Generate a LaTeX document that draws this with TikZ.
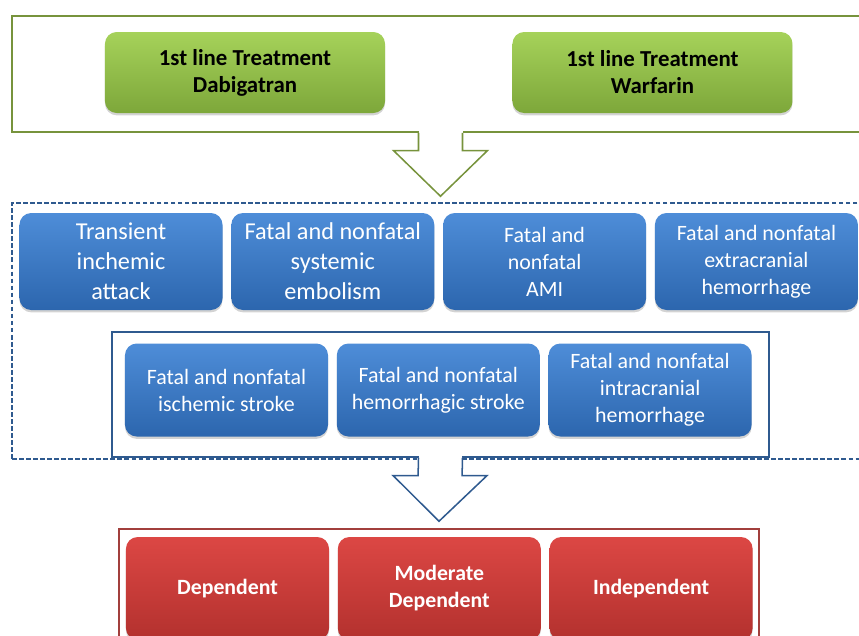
\documentclass[tikz,border=0pt]{standalone}
\usepackage{fontspec}
\setmainfont{Carlito}
\usepackage{tikz}
\usetikzlibrary{positioning,fit,calc,shadows}
\definecolor{grnTop}{HTML}{A6D25A}
\definecolor{grnBot}{HTML}{7DA73A}
\definecolor{grnLine}{HTML}{77933C}
\definecolor{bluTop}{HTML}{4E8DD8}
\definecolor{bluBot}{HTML}{2C66AE}
\definecolor{bluLine}{HTML}{2F5A8F}
\definecolor{redTop}{HTML}{DC4744}
\definecolor{redBot}{HTML}{B3312E}
\definecolor{redLine}{HTML}{A23F3C}

% hollow block arrow: start anchor, tip, colour
\newcommand{\hollowarrow}[3]{%
  \fill[white] ($(#1)+(-22,-3)$) rectangle ($(#1)!0.28!(#2)+(22,0)$);
  \draw[#3, line width=1.3pt, line join=miter, fill=white]
    ($(#1)+(-22,0)$) -- ($(#1)!0.28!(#2)+(-22,0)$) -- ($(#1)!0.28!(#2)+(-47,0)$) -- (#2)
    -- ($(#1)!0.28!(#2)+(47,0)$) -- ($(#1)!0.28!(#2)+(22,0)$) -- ($(#1)+(22,0)$);
}

\begin{document}
\begin{tikzpicture}[
  x=0.03cm, y=-0.03cm,
  rbox/.style={rectangle, rounded corners=10pt, draw=none,
               top color=#1Top, bottom color=#1Bot,
               drop shadow={shadow xshift=0pt, shadow yshift=-2pt, opacity=0.35},
               minimum width=6.09cm, align=center, inner sep=2pt},
  trt/.style={rbox=grn, minimum width=8.4cm, minimum height=2.43cm,
              font=\fontsize{19.5}{23}\selectfont\bfseries},
  evt/.style={rbox=blu, minimum height=2.91cm, text=white,
              font=\fontsize{18.7}{23}\selectfont},
  evtbig/.style={evt, font=\fontsize{20.7}{25.6}\selectfont},
  sub/.style={rbox=blu, minimum height=2.79cm, text=white,
              font=\fontsize{18.7}{23}\selectfont},
  outc/.style={rbox=red, minimum height=3.09cm, text=white,
               font=\fontsize{18.6}{23}\selectfont\bfseries},
  frame/.style={rectangle, draw=#1, line width=1.3pt, inner sep=0pt}
]
\clip (0,0) rectangle (859,635);

%% ── Frames ─────────────────────────────────────────────────────
\node[frame=grnLine, fit={(12,16) (869,132)}] (trtframe) {};
\node[frame=bluLine, dash pattern=on 4pt off 2pt, fit={(12,203) (869,459)}] (evtframe) {};
\node[frame=bluLine, fit={(112,332) (769,457)}] (subframe) {};
\node[frame=redLine, fit={(119,529) (759,650)}] (outframe) {};

%% ── Treatments ─────────────────────────────────────────────────
\node[trt] (dabi) at (245,72.5) {1st line Treatment\\Dabigatran};
\node[trt, right=3.81cm of dabi] (warf) {1st line Treatment\\Warfarin};

%% ── Events ─────────────────────────────────────────────────────
\node[evtbig] (tia) at (121,261.5) {Transient\\inchemic\\attack};
\node[evtbig, right=0.25cm of tia] (emb) {Fatal and nonfatal\\systemic\\embolism};
\node[evt, right=0.25cm of emb] (ami) {Fatal and\\nonfatal\\AMI};
\node[evt, right=0.25cm of ami] (exh) {Fatal and nonfatal\\extracranial\\hemorrhage};

\node[sub] (isch) at (226.5,390) {Fatal and nonfatal\\ischemic stroke};
\node[sub, right=0.25cm of isch] (hstr) {Fatal and nonfatal\\hemorrhagic stroke};
\node[sub, right=0.25cm of hstr] (inh) {Fatal and nonfatal\\intracranial\\hemorrhage};

%% ── Outcomes ───────────────────────────────────────────────────
\node[outc] (dep) at (227.5,588.5) {Dependent};
\node[outc, right=0.25cm of dep] (mdep) {Moderate\\Dependent};
\node[outc, right=0.25cm of mdep] (indep) {Independent};

%% ── Arrows ─────────────────────────────────────────────────────
\hollowarrow{trtframe.south}{$(evtframe.north)+(0,-6)$}{grnLine}
\hollowarrow{subframe.south}{$(outframe.north)+(0,-7)$}{bluLine}

\end{tikzpicture}
\end{document}
